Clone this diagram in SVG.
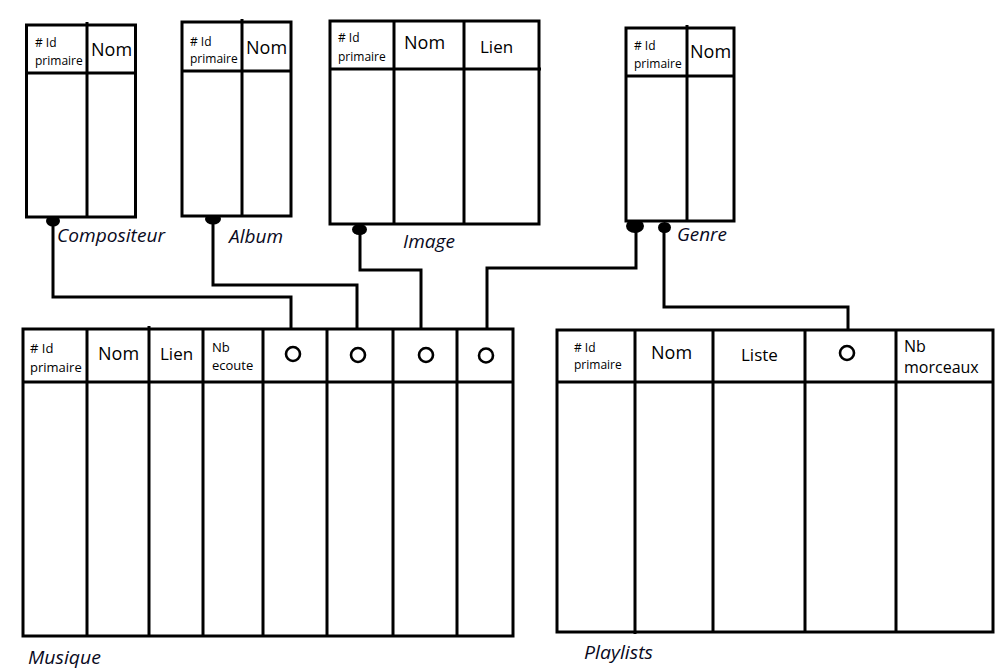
<svg xmlns="http://www.w3.org/2000/svg" width="1006" height="669" viewBox="0 0 1006 669">
  <style>
    .box { fill: #fff; stroke: #000; stroke-width: 3; }
    .ln { stroke: #000; stroke-width: 3; fill: none; }
    .wire { stroke: #000; stroke-width: 3; fill: none; stroke-linejoin: miter; }
    .dot { fill: #000; }
    .ring { fill: none; stroke: #000; stroke-width: 2.6; }
    .t { font-family: "Open Sans", "Liberation Sans", sans-serif; fill: #000; }
    .lbl { font-family: "Open Sans", "Liberation Sans", sans-serif; font-style: italic; font-size: 18.5px; fill: #0a0a1e; }
  </style>
  <rect width="1006" height="669" fill="#fff"/>

  <!-- links between tables -->
  <g id="connectors">
    <path class="wire" d="M53 220 V297 H291 V329"/>
    <path class="wire" d="M213 219 V285 H357 V329"/>
    <path class="wire" d="M360 229 V270 H421 V329"/>
    <path class="wire" d="M636 224 V268 H487 V329"/>
    <path class="wire" d="M664 228 V307 H848 V330"/>
    <ellipse class="dot" cx="53" cy="221" rx="7" ry="5.5"/>
    <ellipse class="dot" cx="213" cy="219" rx="8" ry="5.5"/>
    <ellipse class="dot" cx="359.5" cy="229.5" rx="7.5" ry="5.5"/>
    <ellipse class="dot" cx="635" cy="226" rx="9" ry="7"/>
    <ellipse class="dot" cx="664.5" cy="227.5" rx="6.5" ry="5.5"/>
  </g>

  <g id="compositeur">
    <rect class="box" x="26.5" y="25" width="109" height="192"/>
    <line class="ln" x1="26.5" y1="73" x2="135.5" y2="73"/>
    <line class="ln" x1="87" y1="22" x2="87" y2="217"/>
    <text class="t" x="35" y="47" font-size="12"># Id</text>
    <text class="t" x="35" y="65" font-size="12">primaire</text>
    <text class="t" x="91" y="56" font-size="18">Nom</text>
    <text class="lbl" x="57" y="242" textLength="108" lengthAdjust="spacingAndGlyphs">Compositeur</text>
  </g>

  <g id="album">
    <rect class="box" x="182" y="22" width="109" height="194"/>
    <line class="ln" x1="182" y1="71" x2="291" y2="71"/>
    <line class="ln" x1="242" y1="19" x2="242" y2="216"/>
    <text class="t" x="190" y="46" font-size="12"># Id</text>
    <text class="t" x="190" y="63" font-size="12">primaire</text>
    <text class="t" x="246" y="54" font-size="18">Nom</text>
    <text class="lbl" x="229" y="243" textLength="54" lengthAdjust="spacingAndGlyphs">Album</text>
  </g>

  <g id="image">
    <rect class="box" x="330" y="21" width="209" height="203"/>
    <line class="ln" x1="330" y1="69" x2="541" y2="69"/>
    <line class="ln" x1="394" y1="21" x2="394" y2="224"/>
    <line class="ln" x1="464" y1="21" x2="464" y2="224"/>
    <text class="t" x="338" y="42" font-size="12"># Id</text>
    <text class="t" x="338" y="61" font-size="12">primaire</text>
    <text class="t" x="404" y="49" font-size="18">Nom</text>
    <text class="t" x="480" y="53" font-size="17">Lien</text>
    <text class="lbl" x="403" y="248" textLength="52" lengthAdjust="spacingAndGlyphs">Image</text>
  </g>

  <g id="genre">
    <rect class="box" x="626" y="28" width="108" height="193"/>
    <line class="ln" x1="626" y1="76" x2="734" y2="76"/>
    <line class="ln" x1="687" y1="25" x2="687" y2="221"/>
    <text class="t" x="634" y="50" font-size="12"># Id</text>
    <text class="t" x="634" y="68" font-size="12">primaire</text>
    <text class="t" x="690" y="58" font-size="18">Nom</text>
    <text class="lbl" x="677" y="241" textLength="50" lengthAdjust="spacingAndGlyphs">Genre</text>
  </g>

  <g id="musique">
    <rect class="box" x="23" y="329" width="490" height="307"/>
    <line class="ln" x1="23" y1="382" x2="513" y2="382"/>
    <line class="ln" x1="87" y1="329" x2="87" y2="636"/>
    <line class="ln" x1="149" y1="326" x2="149" y2="636"/>
    <line class="ln" x1="203" y1="329" x2="203" y2="636"/>
    <line class="ln" x1="263" y1="329" x2="263" y2="636"/>
    <line class="ln" x1="327" y1="329" x2="327" y2="636"/>
    <line class="ln" x1="393" y1="329" x2="393" y2="636"/>
    <line class="ln" x1="457" y1="329" x2="457" y2="636"/>
    <text class="t" x="30" y="353" font-size="13"># Id</text>
    <text class="t" x="30" y="372" font-size="13">primaire</text>
    <text class="t" x="98" y="360" font-size="18">Nom</text>
    <text class="t" x="160" y="360" font-size="17">Lien</text>
    <text class="t" x="212" y="352" font-size="13">Nb</text>
    <text class="t" x="212" y="370" font-size="13">ecoute</text>
    <circle class="ring" cx="293" cy="354" r="7"/>
    <circle class="ring" cx="358" cy="355" r="7"/>
    <circle class="ring" cx="426" cy="355" r="7"/>
    <circle class="ring" cx="486" cy="355.5" r="7"/>
    <text class="lbl" x="28" y="664" textLength="73" lengthAdjust="spacingAndGlyphs">Musique</text>
  </g>

  <g id="playlists">
    <rect class="box" x="557" y="330" width="436" height="302"/>
    <line class="ln" x1="557" y1="382" x2="993" y2="382"/>
    <line class="ln" x1="635" y1="330" x2="635" y2="634"/>
    <line class="ln" x1="713" y1="330" x2="713" y2="632"/>
    <line class="ln" x1="805" y1="330" x2="805" y2="632"/>
    <line class="ln" x1="896" y1="330" x2="896" y2="632"/>
    <text class="t" x="574" y="352" font-size="12"># Id</text>
    <text class="t" x="574" y="369" font-size="12">primaire</text>
    <text class="t" x="651" y="359" font-size="18">Nom</text>
    <text class="t" x="741" y="361" font-size="17">Liste</text>
    <circle class="ring" cx="847" cy="353" r="7"/>
    <text class="t" x="904" y="352" font-size="16">Nb</text>
    <text class="t" x="904" y="373" font-size="16">morceaux</text>
    <text class="lbl" x="584" y="659" textLength="69" lengthAdjust="spacingAndGlyphs">Playlists</text>
  </g>
</svg>
